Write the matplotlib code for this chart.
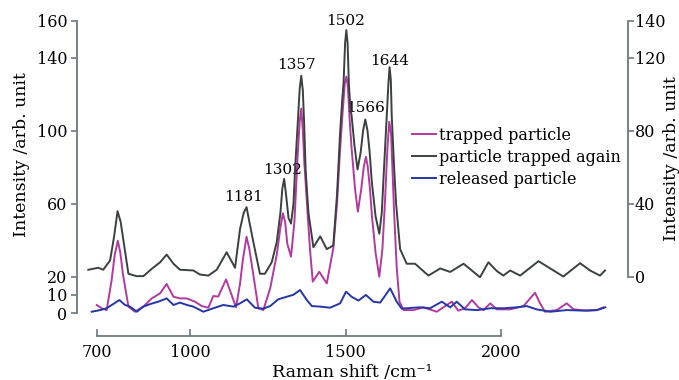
import matplotlib
matplotlib.use("Agg")
import matplotlib.pyplot as plt

# ---- data ----
# particle trapped again (right axis)
again_x = [672, 704, 720, 742, 755, 766, 776, 785, 801, 827, 849, 876, 903, 924, 946, 967, 1010,
           1031, 1058, 1085, 1117, 1144, 1160, 1172, 1181, 1190, 1203, 1224, 1240, 1262, 1278,
           1290, 1296, 1302, 1308, 1316, 1324, 1332, 1337, 1347, 1352, 1357, 1362, 1366, 1371,
           1380, 1396, 1418, 1439, 1460, 1472, 1482, 1488, 1493, 1498, 1502, 1506, 1510, 1515,
           1519, 1528, 1538, 1548, 1556, 1563, 1570, 1577, 1584, 1596, 1608, 1616, 1623, 1632,
           1637, 1641, 1645, 1648, 1656, 1662, 1675, 1696, 1723, 1766, 1804, 1836, 1879, 1932,
           1959, 1986, 2007, 2029, 2061, 2120, 2158, 2200, 2254, 2286, 2318, 2334]
again_y = [3.7, 4.8, 3.7, 8.8, 22, 35.8, 30, 19.7, 1.5, 0.2, 0.2, 4.2, 7.8, 12, 7, 3.7, 3.3,
           1.1, 0.5, 3.7, 13.3, 4.8, 26, 35, 38, 30, 18.8, 1.5, 1.5, 7.8, 18.8,
           35, 48, 53.5, 45, 32, 29, 40, 58.6, 88, 103, 110, 102, 85, 58.6,
           35, 16, 22, 15, 17, 45, 79, 95, 106, 128, 135, 128, 106, 92,
           88, 72, 58.6, 68, 80, 86, 80, 68, 51.7, 33, 23.4, 35, 58.6, 88,
           105, 114.7, 108, 88, 58.6, 40, 15, 7, 7, 0.5, 4.4, 2.5, 7, -0.4,
           7.8, 3, 0.5, 3.3, 0.5, 8.4, 4.4, 0, 7.3, 3.3, 0.5, 3.3]

# trapped particle (left axis)
trapped_x = [699, 715, 731, 747, 757, 767, 775, 783, 801, 822, 849, 876, 903, 924, 946, 967, 989,
             1015, 1037, 1058, 1074, 1090, 1115, 1131, 1147, 1160, 1169, 1181, 1190, 1203, 1219,
             1235, 1257, 1278, 1290, 1298, 1305, 1312, 1324, 1335, 1345, 1352, 1357, 1362, 1367,
             1375, 1385, 1394, 1415, 1439, 1460, 1472, 1482, 1490, 1497, 1502, 1507, 1513, 1519,
             1530, 1539, 1550, 1558, 1565, 1571, 1578, 1584, 1596, 1608, 1618, 1626, 1634, 1640,
             1646, 1650, 1656, 1664, 1673, 1686, 1718, 1750, 1793, 1814, 1841, 1862, 1884, 1906,
             1927, 1943, 1965, 1986, 2029, 2072, 2093, 2109, 2125, 2141, 2179, 2211, 2233,
             2276, 2308, 2329]
trapped_y = [4.4, 2.6, 1.6, 18, 32, 39.6, 33, 21.7, 3.5, 0.7, 3.5, 8, 10.8, 15.9, 8.9, 8, 8,
             6.2, 3.8, 2.9, 9.3, 9, 18.4, 10.8, 3.1, 16, 29, 41.8, 35, 20.8, 2.6,
             1.6, 13.5, 31.8, 47, 54.6, 50, 38, 30.9, 50, 85, 105, 112, 100, 82,
             61, 35, 17.2, 22.6, 16.2, 35.4, 60, 90, 110, 126, 129.5, 124, 105, 90,
             68, 55.5, 68, 80, 85.6, 80, 68, 53.7, 33, 19.9, 35, 60, 90, 104.8,
             98, 80, 53.7, 25, 6.2, 1.6, 1.6, 3.1, 0.7, 3.1, 6.2, 1.3, 2.6, 7.1,
             3.1, 1.6, 5.3, 2, 2, 3.8, 8, 11.1, 5.3, 0.7, 1.6, 5.3, 2,
             1.3, 1.6, 3.1]

# released particle (left axis)
released_x = [683, 710, 731, 752, 772, 790, 806, 828, 849, 871, 897, 924, 946, 967, 989,
              1010, 1042, 1074, 1106, 1139, 1160, 1182, 1208, 1235, 1257, 1283, 1310, 1332,
              1353, 1375, 1391, 1418, 1450, 1482, 1501, 1519, 1541, 1565, 1589, 1611, 1643,
              1664, 1680, 1718, 1739, 1771, 1809, 1836, 1857, 1884, 1922, 1965, 2007, 2050,
              2082, 2114, 2158, 2211, 2265, 2308, 2335]
released_y = [0.7, 1.6, 2.6, 4.9, 7.1, 4.4, 3.5, 0.7, 3.5, 4.9, 6.2, 8, 4.4, 5.7, 4.4,
              3.5, 0.7, 2.6, 4.4, 3.5, 5.3, 7.5, 2.9, 2.4, 3.8, 7.5, 8.9, 10,
              12.6, 7.1, 3.8, 3.5, 2.9, 5.3, 11.7, 8.9, 6.8, 9.9, 6.2, 5.7, 13.5,
              6.2, 2.4, 2.9, 3.1, 2.6, 6.2, 3.1, 6.2, 2, 1.6, 2.6, 2.6, 3.1,
              3.8, 2, 0.7, 1.6, 1.3, 1.6, 3.1]

peak_labels = ["1181", "1302", "1357", "1502", "1566", "1644"]
peak_label_x = [1170, 1298, 1343, 1501, 1565, 1640]
peak_label_y = [63.6, 78.4, 135.9, 160, 112.3, 138]

x_ticks = [700, 1000, 1500, 2000]
left_ticks = [0, 10, 20, 60, 100, 140, 160]
right_ticks = [0, 40, 80, 120, 140]

series_names = ["trapped particle", "particle trapped again", "released particle"]

# ---- style ----
plt.rcParams['font.family'] = ['DejaVu Serif']
c_pink = '#b23a9e'
c_black = '#3b4041'
c_blue = '#2636a6'
c_spine = '#6f787d'
fs_tick = 11.5
fs_label = 12.5

fig = plt.figure(figsize=(6.79, 3.80), dpi=100)
ax = fig.add_axes([77/679, 1-336/380, (628-77)/679, (336-21)/380])
ax2 = ax.twinx()

l2, = ax2.plot(again_x, again_y, color=c_black, lw=1.4, zorder=2)
l1, = ax.plot(trapped_x, trapped_y, color=c_pink, lw=1.4, zorder=3)
l3, = ax.plot(released_x, released_y, color=c_blue, lw=1.4, zorder=4)

ax.set_xlim(635.6, 2408)
ax.set_ylim(-12.6, 160)
ax2.set_ylim(-32.6, 140)

ax.set_xticks(x_ticks)
ax.set_yticks(left_ticks)
ax2.set_yticks(right_ticks)

for a in (ax, ax2):
    a.spines['top'].set_visible(False)
    for s in a.spines.values():
        s.set_color(c_spine)
        s.set_linewidth(1.3)
ax.spines['right'].set_visible(False)
ax2.spines['left'].set_visible(False)
ax2.spines['bottom'].set_visible(False)
ax.spines['left'].set_bounds(0, 160)
ax2.spines['right'].set_bounds(0, 140)
ax.spines['bottom'].set_bounds(700, 2000)

ax.tick_params(axis='y', direction='out', length=4, width=1.2, color=c_spine,
               labelsize=fs_tick, pad=3)
ax2.tick_params(axis='y', direction='out', length=4, width=1.2, color=c_spine,
                labelsize=fs_tick, pad=1)
ax.tick_params(axis='x', direction='in', length=5, width=1.2, color=c_spine,
               labelsize=fs_tick, pad=6)

ax.set_xlabel("Raman shift /cm\u207b\u00b9", fontsize=fs_label, labelpad=2)
ax.set_ylabel("Intensity /arb. unit", fontsize=fs_label, va='center')
ax.yaxis.set_label_coords((22-77)/551, (336-155)/315)
ax2.set_ylabel("Intensity /arb. unit", fontsize=fs_label, rotation=90, va='center')
ax2.yaxis.set_label_coords((671-77)/551, (336-159)/315)

for lab, px, py in zip(peak_labels, peak_label_x, peak_label_y):
    ax.text(px, py, lab, ha='center', va='center', fontsize=11, zorder=5)

leg = ax.legend([l1, l2, l3], series_names, loc='upper left',
                bbox_to_anchor=(412/679, 1-127/380), bbox_transform=fig.transFigure,
                frameon=False, fontsize=11.5, handlelength=1.5, handletextpad=0.2,
                labelspacing=0.3, borderpad=0, borderaxespad=0)

fig.savefig("out.png", dpi=100)
